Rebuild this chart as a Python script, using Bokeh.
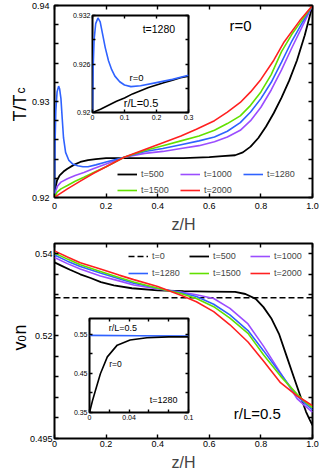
from math import pi
from bokeh.plotting import figure
from bokeh.models import (Range1d, LinearAxis, FixedTicker, Label, Legend, LegendItem,
                          CustomLabelingPolicy)
from bokeh.layouts import column
from bokeh.embed import file_html
from bokeh.resources import INLINE

FONT = "Liberation Sans"

# ---------------- colours ----------------
C500, C1000, C1280, C1500, C2000 = "#000000", "#9b4dff", "#2f62ff", "#62e000", "#ff2020"

# ---------------- top panel: T/Tc vs z/H at r=0 ----------------
top_z_500 = [0, 0.004, 0.01, 0.02, 0.035, 0.05, 0.075, 0.1, 0.13, 0.16, 0.2, 0.3, 0.4, 0.5,
             0.6, 0.65, 0.7, 0.73, 0.76, 0.79, 0.82, 0.85, 0.88, 0.91, 0.94, 0.97, 1.0]
top_T_500 = [0.9200, 0.9211, 0.9218, 0.9223, 0.9227, 0.9230, 0.9234, 0.9237, 0.9239, 0.9240,
             0.9241, 0.9241, 0.9241, 0.9241, 0.9242, 0.9243, 0.9244, 0.9247, 0.9253, 0.9262,
             0.9274, 0.9288, 0.9304, 0.9322, 0.9343, 0.9369, 0.9400]

top_z_1000 = [0, 0.005, 0.012, 0.025, 0.05, 0.08, 0.114, 0.15, 0.2, 0.27, 0.35, 0.42, 0.49,
              0.56, 0.62, 0.67, 0.72, 0.76, 0.8, 0.84, 0.88, 0.92, 0.96, 1.0]
top_T_1000 = [0.9200, 0.9207, 0.9212, 0.9216, 0.92195, 0.9223, 0.9226, 0.9230, 0.9235, 0.9242,
              0.9246, 0.9248, 0.9251, 0.9254, 0.9258, 0.9263, 0.9270, 0.9280, 0.9294, 0.9312,
              0.9333, 0.9356, 0.9378, 0.9400]

top_z_1280 = [0, 0.002, 0.005, 0.01, 0.016, 0.02, 0.025, 0.03, 0.035, 0.043, 0.055, 0.07, 0.09,
              0.11, 0.13, 0.16, 0.2, 0.27, 0.35, 0.42, 0.49, 0.56, 0.62, 0.67, 0.72, 0.76, 0.8,
              0.84, 0.88, 0.92, 0.96, 1.0]
top_T_1280 = [0.9200, 0.9255, 0.9290, 0.9310, 0.9316, 0.9313, 0.9303, 0.9282, 0.9262, 0.9247,
              0.9239, 0.9235, 0.9233, 0.9232, 0.9232, 0.9234, 0.9237, 0.9242, 0.9248, 0.9251,
              0.9255, 0.9259, 0.9263, 0.9269, 0.9278, 0.9289, 0.9303, 0.9320, 0.9341, 0.9363,
              0.9382, 0.9400]

top_z_1500 = [0, 0.01, 0.025, 0.05, 0.08, 0.114, 0.16, 0.2, 0.27, 0.35, 0.42, 0.49, 0.56, 0.62,
              0.67, 0.72, 0.76, 0.8, 0.84, 0.88, 0.92, 0.96, 1.0]
top_T_1500 = [0.9200, 0.92055, 0.9209, 0.92125, 0.9217, 0.9221, 0.9227, 0.9232, 0.9242, 0.9249,
              0.9254, 0.9259, 0.9264, 0.9270, 0.9277, 0.9285, 0.9296, 0.9310, 0.9328, 0.9352,
              0.9370, 0.9385, 0.9400]

top_z_2000 = [0, 0.01, 0.05, 0.1, 0.15, 0.2, 0.27, 0.35, 0.41, 0.49, 0.55, 0.62, 0.67, 0.72,
              0.76, 0.8, 0.85, 0.89, 0.95, 1.0]
top_T_2000 = [0.9200, 0.9202, 0.9209, 0.9217, 0.9225, 0.9232, 0.9242, 0.9250, 0.9256, 0.9264,
              0.9271, 0.9280, 0.9289, 0.9299, 0.9310, 0.9323, 0.9343, 0.9362, 0.9384, 0.9400]

# top inset (t=1280, near z=0)
ins1_z_r0 = [0, 0.002, 0.005, 0.01, 0.017, 0.024, 0.032, 0.04, 0.05, 0.06, 0.07, 0.085, 0.1,
             0.12, 0.15, 0.2, 0.25, 0.3]
ins1_T_r0 = [0.9200, 0.9255, 0.9290, 0.9310, 0.9317, 0.9312, 0.9296, 0.9280, 0.9264, 0.9253,
             0.9245, 0.9238, 0.9234, 0.9232, 0.9233, 0.9237, 0.9241, 0.9246]
ins1_z_r05 = [0, 0.025, 0.05, 0.075, 0.1, 0.125, 0.15, 0.175, 0.2, 0.225, 0.25, 0.275, 0.3]
ins1_T_r05 = [0.9200, 0.9204, 0.9209, 0.9214, 0.9218, 0.9223, 0.9227, 0.9231, 0.9234, 0.9237,
              0.9240, 0.9243, 0.9245]

# ---------------- bottom panel: v0 n vs z/H at r/L=0.5 ----------------
bot_z_0 = [0, 1.0]
bot_n_0 = [0.5293, 0.5293]

bot_z_500 = [0, 0.03, 0.06, 0.1, 0.14, 0.18, 0.23, 0.3, 0.4, 0.5, 0.6, 0.7, 0.74, 0.78, 0.81,
             0.84, 0.87, 0.9, 0.93, 0.955, 0.975, 0.99, 1.0]
bot_n_500 = [0.5379, 0.5370, 0.5361, 0.5350, 0.5341, 0.5331, 0.5323, 0.5316, 0.5311, 0.5309,
             0.5308, 0.5307, 0.5302, 0.5290, 0.5270, 0.5243, 0.5205, 0.5150, 0.5095, 0.5050,
             0.5015, 0.4995, 0.4982]

bot_z = [0, 0.05, 0.1, 0.178, 0.25, 0.307, 0.4, 0.49, 0.55, 0.617, 0.68, 0.75, 0.81, 0.876,
         0.94, 0.97, 1.0]
bot_n_1000 = [0.5391, 0.5376, 0.5363, 0.5346, 0.5334, 0.5324, 0.5314, 0.5307, 0.5300, 0.5291,
              0.5267, 0.5229, 0.5175, 0.5110, 0.5047, 0.5030, 0.5014]
bot_n_1280 = [0.5397, 0.5382, 0.5369, 0.5353, 0.5339, 0.5328, 0.5316, 0.5305, 0.5296, 0.5277,
              0.5251, 0.5213, 0.5164, 0.5108, 0.5054, 0.5036, 0.5020]
bot_n_1500 = [0.5402, 0.5387, 0.5373, 0.5357, 0.5342, 0.5331, 0.5316, 0.5303, 0.5291, 0.5271,
              0.5243, 0.5206, 0.5154, 0.5102, 0.5058, 0.5040, 0.5025]
bot_n_2000 = [0.5407, 0.5392, 0.5378, 0.5363, 0.5348, 0.5337, 0.5320, 0.5299, 0.5283, 0.5259,
              0.5227, 0.5185, 0.5139, 0.5086, 0.5054, 0.5042, 0.5030]

# bottom inset (t=1280, near z=0)
ins2_z_r05 = [0, 0.05, 0.1]
ins2_n_r05 = [0.547, 0.546, 0.545]
ins2_z_r0 = [0, 0.003, 0.006, 0.011, 0.018, 0.028, 0.041, 0.058, 0.08, 0.1]
ins2_n_r0 = [0.35, 0.38, 0.406, 0.449, 0.492, 0.522, 0.535, 0.541, 0.543, 0.543]

# ---------------- ticks ----------------
x_ticks = [0, 0.2, 0.4, 0.6, 0.8, 1.0]
x_labels = ["0", "0.2", "0.4", "0.6", "0.8", "1.0"]
top_y_ticks = [0.92, 0.93, 0.94]
top_y_labels = ["0.92", "0.93", "0.94"]
top_y_minor = [0.922, 0.924, 0.926, 0.928, 0.932, 0.934, 0.936, 0.938]
bot_y_ticks = [0.495, 0.52, 0.54]
bot_y_labels = ["0.495", "0.52", "0.54"]
bot_y_minor = [0.5, 0.505, 0.51, 0.515, 0.525, 0.53, 0.535]
ins1_x_ticks = [0, 0.1, 0.2, 0.3]
ins1_x_labels = ["0", "0.1", "0.2", "0.3"]
ins1_y_ticks = [0.92, 0.926, 0.932]
ins1_y_labels = ["0.92", "0.926", "0.932"]
ins1_y_minor = [0.923, 0.929]
ins2_x_ticks = [0, 0.04, 0.1]
ins2_x_labels = ["0", "0.04", "0.1"]
ins2_x_minor = [0.02, 0.06, 0.08]
ins2_y_ticks = [0.35, 0.45, 0.55]
ins2_y_labels = ["0.35", "0.45", "0.55"]
ins2_y_minor = [0.4, 0.5]

# layout: left / right frame borders shared by every figure of the column
BL, BR = 54, 8


def make_fig(w, h, xr, yr, top, bottom, margin=None, overlay=False, axes=True):
    kw = dict(width=w, height=h, x_range=Range1d(*xr), y_range=Range1d(*yr),
              output_backend="svg", toolbar_location=None,
              min_border_left=BL, min_border_right=BR,
              min_border_top=top, min_border_bottom=bottom)
    if not axes:
        kw["x_axis_location"] = None
        kw["y_axis_location"] = None
    if margin is not None:
        kw["margin"] = margin
    p = figure(**kw)
    for g in p.grid:
        g.visible = False
    if axes:
        p.outline_line_color = "black"
        p.outline_line_width = 2
        p.outline_line_alpha = 1
        p.background_fill_color = "white"
    else:
        p.outline_line_color = None
        p.background_fill_alpha = 0
    if overlay:
        p.border_fill_alpha = 0
    else:
        p.border_fill_color = "white"
    return p


def style_axes(p, xt, xl, xminor, yt, yl, yminor, fs, tin, standoff):
    xtk = FixedTicker(ticks=xt, minor_ticks=xminor)
    ytk = FixedTicker(ticks=yt, minor_ticks=yminor)
    common = dict(axis_line_color=None, major_tick_in=tin, major_tick_out=0,
                  minor_tick_in=tin, minor_tick_out=0,
                  major_tick_line_color="black", minor_tick_line_color="black",
                  major_tick_line_width=1.4, minor_tick_line_width=1.4)
    for ax, tk, ticks, labels in ((p.below[0], xtk, xt, xl), (p.left[0], ytk, yt, yl)):
        ax.ticker = tk
        ax.major_label_overrides = dict(zip(ticks, labels))
        ax.major_label_text_font = FONT
        ax.major_label_text_font_size = fs
        ax.major_label_text_color = "black"
        ax.major_label_standoff = standoff
        for k, v in common.items():
            setattr(ax, k, v)
    for loc, tk in (("right", ytk), ("above", xtk)):
        ax = LinearAxis(ticker=tk, major_label_text_font_size="0px", major_label_standoff=0,
                        major_label_policy=CustomLabelingPolicy(code="return []"), **common)
        p.add_layout(ax, loc)


def style_legend(leg, loc, lw, sp):
    leg.location = loc
    leg.orientation = "horizontal"
    leg.ncols = 3
    leg.label_text_font = FONT
    leg.label_text_font_size = "9px"
    leg.glyph_width = 20
    leg.glyph_height = 14
    leg.label_height = 14
    leg.label_width = lw
    leg.label_standoff = 4
    leg.spacing = sp
    leg.padding = 0
    leg.margin = 0
    leg.background_fill_alpha = 0
    leg.border_line_alpha = 0


def xlabel(p, standoff):
    ax = p.below[0]
    ax.axis_label = "z/H"
    ax.axis_label_text_font = FONT
    ax.axis_label_text_font_size = "16px"
    ax.axis_label_text_font_style = "normal"
    ax.axis_label_standoff = standoff


def ylabel_fig(h, margin, parts):
    f = make_fig(BL + 34 + BR, h, (0, 1), (0, 1), 0, 0, margin=margin, overlay=True, axes=False)
    for txt, x, y, fs in parts:
        f.add_layout(Label(x=x, y=y, x_units="screen", y_units="screen", text=txt,
                           angle=pi / 2, text_font=FONT, text_font_size=fs,
                           text_align="left", text_baseline="alphabetic", text_color="black"))
    return f


# ================= top main figure (page y 0..236) =================
p1 = make_fig(320, 236, (0, 1), (0.92, 0.94), 5, 39)
style_axes(p1, x_ticks, x_labels, [], top_y_ticks, top_y_labels, top_y_minor, "9px", 4, 5)
xlabel(p1, 4)

r500 = p1.line(top_z_500, top_T_500, line_color=C500, line_width=1.8)
r1000 = p1.line(top_z_1000, top_T_1000, line_color=C1000, line_width=1.6)
r1280 = p1.line(top_z_1280, top_T_1280, line_color=C1280, line_width=1.6)
r1500 = p1.line(top_z_1500, top_T_1500, line_color=C1500, line_width=1.6)
r2000 = p1.line(top_z_2000, top_T_2000, line_color=C2000, line_width=1.6)

leg1 = Legend(items=[LegendItem(label="t=500", renderers=[r500]),
                     LegendItem(label="t=1000", renderers=[r1000]),
                     LegendItem(label="t=1280", renderers=[r1280]),
                     LegendItem(label="t=1500", renderers=[r1500]),
                     LegendItem(label="t=2000", renderers=[r2000])])
style_legend(leg1, (63, 0), 37, 2)
p1.add_layout(leg1)

p1.add_layout(Label(x=0.721, y=0.9379, text="r=0", text_font=FONT, text_font_size="15px",
                    text_align="center", text_baseline="middle", text_color="black"))

# y label "T/Tc" (overlay, page x -52.., y 70..130)
lab1 = ylabel_fig(60, (70 - 236, 0, 236 - 130, -52),
                  [("T/T", 17, 9, "18px"), ("c", 18.5, 37, "12px")])

# ================= top inset (frame page x 92..188, y 15..112) =================
i1 = make_fig(BL + 96 + BR, 4 + 97 + 12, (0, 0.3), (0.92, 0.932), 4, 12,
              margin=(11 - 236, 0, 236 - (11 + 113), 92 - BL), overlay=True)
style_axes(i1, ins1_x_ticks, ins1_x_labels, [], ins1_y_ticks, ins1_y_labels, ins1_y_minor,
           "7px", 3, 2)
i1.line(ins1_z_r05, ins1_T_r05, line_color=C500, line_width=1.6)
i1.line(ins1_z_r0, ins1_T_r0, line_color=C1280, line_width=1.6)
for txt, x, y, fs in (("t=1280", 0.2075, 0.9303, "10.5px"), ("r=0", 0.1375, 0.92437, "9.5px"),
                      ("r/L=0.5", 0.152, 0.9212, "11px")):
    i1.add_layout(Label(x=x, y=y, text=txt, text_font=FONT, text_font_size=fs,
                        text_align="center", text_baseline="middle", text_color="black"))

# ================= bottom main figure (page y 236..475) =================
p2 = make_fig(320, 239, (0, 1), (0.495, 0.5425), 7, 37)
style_axes(p2, x_ticks, x_labels, [], bot_y_ticks, bot_y_labels, bot_y_minor, "9px", 4, 2)
xlabel(p2, 4)

s0 = p2.line(bot_z_0, bot_n_0, line_color="black", line_width=1.6, line_dash="6 3")
s500 = p2.line(bot_z_500, bot_n_500, line_color=C500, line_width=1.8)
s1000 = p2.line(bot_z, bot_n_1000, line_color=C1000, line_width=1.6)
s1280 = p2.line(bot_z, bot_n_1280, line_color=C1280, line_width=1.6)
s1500 = p2.line(bot_z, bot_n_1500, line_color=C1500, line_width=1.6)
s2000 = p2.line(bot_z, bot_n_2000, line_color=C2000, line_width=1.6)

leg2 = Legend(items=[LegendItem(label="t=0", renderers=[s0]),
                     LegendItem(label="t=500", renderers=[s500]),
                     LegendItem(label="t=1000", renderers=[s1000]),
                     LegendItem(label="t=1280", renderers=[s1280]),
                     LegendItem(label="t=1500", renderers=[s1500]),
                     LegendItem(label="t=2000", renderers=[s2000])])
style_legend(leg2, (74, 158), 34, 3)
p2.add_layout(leg2)

p2.add_layout(Label(x=0.786, y=0.5012, text="r/L=0.5", text_font=FONT, text_font_size="15px",
                    text_align="center", text_baseline="middle", text_color="black"))

# y label "v0n" (overlay, page y 310..370)
lab2 = ylabel_fig(60, (310 - 475, 0, 475 - 370, -52),
                  [("v", 17, 20, "18px"), ("0", 19.5, 29, "11px"), ("n", 17, 36, "18px")])

# ================= bottom inset (frame page x 89..188, y 318..412) =================
i2 = make_fig(BL + 99 + BR, 4 + 94 + 12, (0, 0.1), (0.35, 0.59), 4, 12,
              margin=(314 - 475, 0, 475 - (314 + 110), 89 - BL), overlay=True)
style_axes(i2, ins2_x_ticks, ins2_x_labels, ins2_x_minor, ins2_y_ticks, ins2_y_labels,
           ins2_y_minor, "7px", 3, 2)
i2.line(ins2_z_r05, ins2_n_r05, line_color=C1280, line_width=1.6)
i2.line(ins2_z_r0, ins2_n_r0, line_color=C500, line_width=1.6)
for txt, x, y, fs in (("r/L=0.5", 0.0337, 0.5646, "9px"), ("r=0", 0.0263, 0.473, "8.5px"),
                      ("t=1280", 0.0748, 0.381, "9px")):
    i2.add_layout(Label(x=x, y=y, text=txt, text_font=FONT, text_font_size=fs,
                        text_align="center", text_baseline="middle", text_color="black"))

layout = column(p1, lab1, i1, p2, lab2, i2)
open("out.html", "w").write(file_html(layout, INLINE))
